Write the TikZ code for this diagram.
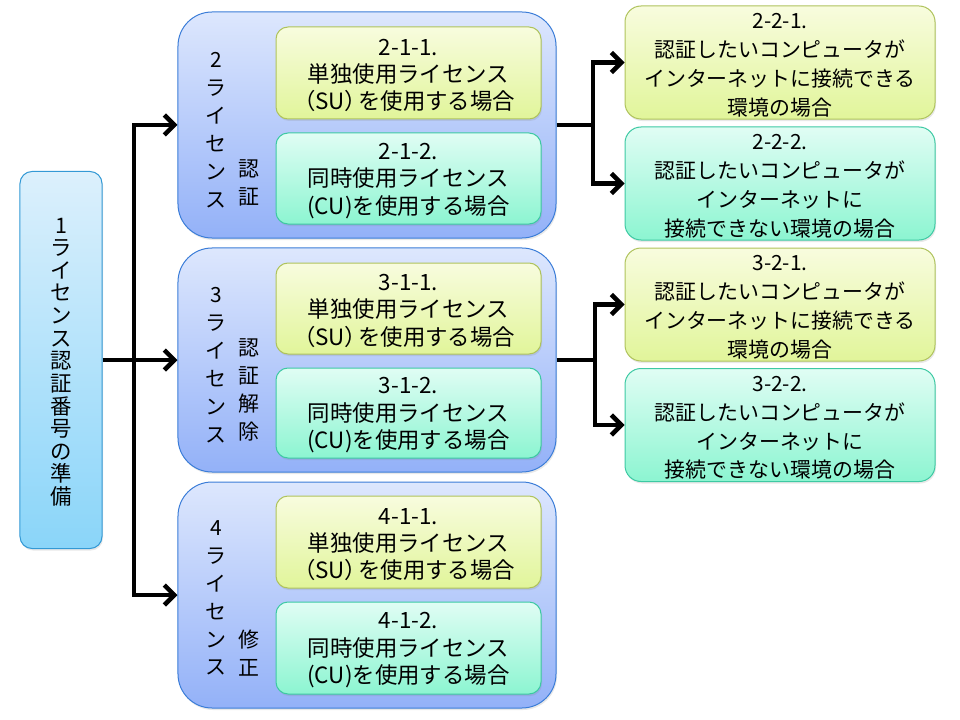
\documentclass[tikz,border=0pt]{standalone}
\usepackage{fontspec}
\newfontfamily\jp{Noto Sans CJK JP}
\usetikzlibrary{arrows.meta,shadows}
\definecolor{grpT}{HTML}{DDE7FD}
\definecolor{grpBot}{HTML}{93B1F8}
\definecolor{grpB}{HTML}{3B7DD8}
\definecolor{ylT}{HTML}{F8FCDE}
\definecolor{ylBot}{HTML}{E1F59A}
\definecolor{ylB}{HTML}{AFC35C}
\definecolor{cyT}{HTML}{E0FDF4}
\definecolor{cyBot}{HTML}{8CF5D1}
\definecolor{cyB}{HTML}{3DC9A3}
\definecolor{lfT}{HTML}{DCF0FC}
\definecolor{lfBot}{HTML}{8AD5F9}
\definecolor{lfB}{HTML}{3399D5}
\newcommand{\topstrut}{\rule{0pt}{21bp}}
\newcommand{\SUtext}{\kern-8bp（\kern-1bp SU\kern0bp）\kern-9bp を使用する場合}
\tikzset{
  box/.style={draw, line width=1bp, inner sep=0pt, align=center,
    font=\jp\fontsize{22.5}{27.5}\selectfont,
    drop shadow={opacity=0.18, shadow xshift=1bp, shadow yshift=-2bp}},
  grp/.style={box, rounded corners=34bp, draw=grpB, top color=grpT, bottom color=grpBot, minimum width=378bp},
  ybox/.style={box, rounded corners=12bp, draw=ylB, top color=ylT, bottom color=ylBot, minimum width=265bp},
  cbox/.style={box, rounded corners=12bp, draw=cyB, top color=cyT, bottom color=cyBot, minimum width=265bp},
  rybox/.style={ybox, rounded corners=16bp, minimum width=310bp, minimum height=113bp, font=\jp\fontsize{21}{29}\selectfont},
  rcbox/.style={cbox, rounded corners=16bp, minimum width=310bp, minimum height=113bp, font=\jp\fontsize{21}{29}\selectfont},
  vcol/.style={inner sep=0pt, align=center, font=\jp\fontsize{21}{28}\selectfont},
  ln/.style={line width=4.5bp, line join=miter, black},
  arr/.style={ln, -{Straight Barb[length=10bp,width=20bp]}}
}
\begin{document}
\begin{tikzpicture}[x=1bp,y=-1bp]
\useasboundingbox (0,0) rectangle (960,720);

% left box
\node[box, rounded corners=12bp, draw=lfB, top color=lfT, bottom color=lfBot,
      minimum width=82bp, minimum height=377bp] (L) at (61,360) {};
\node[vcol, font=\jp\fontsize{21.5}{22.7}\selectfont] (Lt) at (61,362)
  {1\\ラ\\イ\\セ\\ン\\ス\\認\\証\\番\\号\\の\\準\\備};

% groups
\node[grp, minimum height=226bp] (g2) at (367,125) {};
\node[grp, minimum height=224bp] (g3) at (367,360) {};
\node[grp, minimum height=226bp] (g4) at (367,595) {};

\node[vcol] (g2a) at (216,130) {2\\ラ\\イ\\セ\\ン\\ス};
\node[vcol] (g2b) at (249,183) {認\\証};
\node[vcol] (g3a) at (216,365) {3\\ラ\\イ\\セ\\ン\\ス};
\node[vcol] (g3b) at (249,390) {認\\証\\解\\除};
\node[vcol] (g4a) at (216,598) {4\\ラ\\イ\\セ\\ン\\ス};
\node[vcol] (g4b) at (249,653) {修\\正};

% inner boxes
\node[ybox, minimum height=92bp] (b211) at (408.5,73) {\topstrut 2-1-1.\\単独使用ライセンス\\\SUtext};
\node[cbox, minimum height=91bp] (b212) at (408.5,178.5) {\topstrut 2-1-2.\\同時使用ライセンス\\(CU)を使用する場合};
\node[ybox, minimum height=91bp] (b311) at (408.5,308.5) {\topstrut 3-1-1.\\単独使用ライセンス\\\SUtext};
\node[cbox, minimum height=90bp] (b312) at (408.5,413) {\topstrut 3-1-2.\\同時使用ライセンス\\(CU)を使用する場合};
\node[ybox, minimum height=92bp] (b411) at (408.5,542) {\topstrut 4-1-1.\\単独使用ライセンス\\\SUtext};
\node[cbox, minimum height=92bp] (b412) at (408.5,648) {\topstrut 4-1-2.\\同時使用ライセンス\\(CU)を使用する場合};

% right boxes
\node[rybox] (r221) at (780,62.5) {\topstrut 2-2-1.\\認証したいコンピュータが\\インターネットに接続できる\\環境の場合};
\node[rcbox] (r222) at (780,183.5) {\topstrut 2-2-2.\\認証したいコンピュータが\\インターネットに\\接続できない環境の場合};
\node[rybox] (r321) at (780,304.5) {\topstrut 3-2-1.\\認証したいコンピュータが\\インターネットに接続できる\\環境の場合};
\node[rcbox] (r322) at (780,425) {\topstrut 3-2-2.\\認証したいコンピュータが\\インターネットに\\接続できない環境の場合};

% connectors left
\coordinate (jl) at (134,360);
\draw[ln] (L.east) -- (jl);
\draw[arr] (jl) -- (g3.west);
\draw[arr] (jl) |- (g2.west);
\draw[arr] (jl) |- (g4.west);

% connectors right
\coordinate (jr2) at (593,125);
\draw[ln] (g2.east) -- (jr2);
\draw[arr] (jr2) |- (r221.west);
\draw[arr] (jr2) |- (r222.west);
\coordinate (jr3) at (595,360);
\draw[ln] (g3.east) -- (jr3);
\draw[arr] (jr3) |- (r321.west);
\draw[arr] (jr3) |- (r322.west);
\end{tikzpicture}
\end{document}
